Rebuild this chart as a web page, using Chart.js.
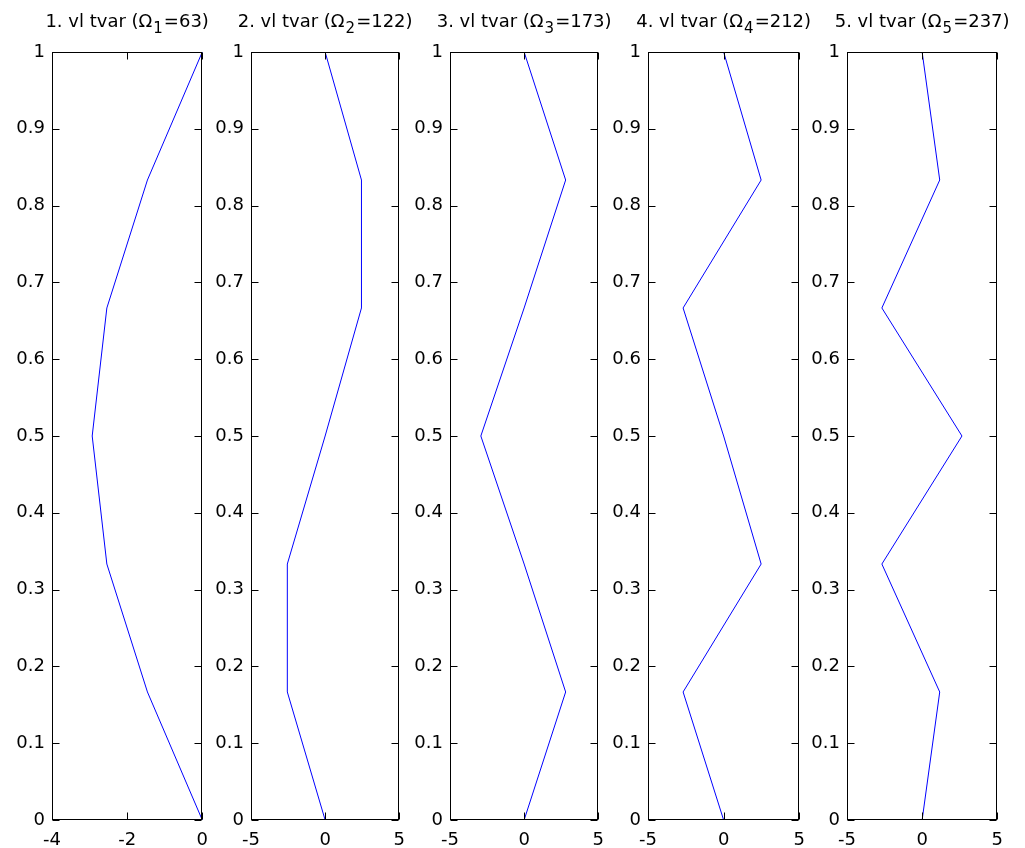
<!DOCTYPE html>
<html>
<head>
<meta charset="utf-8">
<script src="https://cdn.jsdelivr.net/npm/chart.js@4.4.0/dist/chart.umd.min.js"></script>
<style>
  html, body { margin: 0; padding: 0; background: #fff; }
  #wrap { position: relative; width: 1025px; height: 848px; overflow: hidden; }
  .panel { position: absolute; top: 0; }
</style>
</head>
<body>
<div id="wrap"></div>
<script>
// ===== DATA =====
const heights = [0, 0.1667, 0.3333, 0.5, 0.6667, 0.8333, 1];
const mode1 = [0, -1.46, -2.54, -2.93, -2.54, -1.46, 0];
const mode2 = [0, -2.55, -2.55, 0, 2.45, 2.45, 0];
const mode3 = [0, 2.8, 0, -2.92, 0, 2.8, 0];
const mode4 = [0, -2.68, 2.48, 0, -2.68, 2.48, 0];
const mode5 = [0, 1.17, -2.68, 2.65, -2.68, 1.17, 0];
const omegas = [63, 122, 173, 212, 237];
const xMins = [-4, -5, -5, -5, -5];
const xMaxs = [0, 5, 5, 5, 5];
const xSteps = [2, 5, 5, 5, 5];
const yTicksMin = 0, yTicksMax = 1, yTickStep = 0.1;

const modes = [mode1, mode2, mode3, mode4, mode5];

// ===== LAYOUT =====
const plotLeft = [52, 251, 450, 648, 847];
const plotWidth = [151, 149, 149, 152, 151];
const PLOT_TOP = 52, CANVAS_H = 848, X_AXIS_H = 28, Y_AXIS_W = 50, RIGHT_PAD = 15;
const FONT = '"DejaVu Sans", "Liberation Sans", Arial, sans-serif';
const FS = 18;
const TICK = 7;

// box, inward ticks on all four sides, and the title with subscript
const matlabAxes = {
  id: 'matlabAxes',
  afterDraw(chart, args, opts) {
    const ctx = chart.ctx;
    const a = chart.chartArea;
    const xs = chart.scales.x, ys = chart.scales.y;
    ctx.save();
    ctx.strokeStyle = '#000';
    ctx.lineWidth = 1;
    const L = Math.round(a.left) + 0.5, R = Math.round(a.right) - 0.5;
    const T = Math.round(a.top) + 0.5, B = Math.round(a.bottom) - 0.5;
    ctx.strokeRect(L, T, R - L, B - T);
    ctx.beginPath();
    ys.ticks.forEach(t => {
      const py = Math.round(ys.getPixelForValue(t.value)) + 0.5;
      ctx.moveTo(L, py); ctx.lineTo(L + TICK, py);
      ctx.moveTo(R, py); ctx.lineTo(R - TICK, py);
    });
    xs.ticks.forEach(t => {
      const px = Math.round(xs.getPixelForValue(t.value)) + 0.5;
      ctx.moveTo(px, B); ctx.lineTo(px, B - TICK);
      ctx.moveTo(px, T); ctx.lineTo(px, T + TICK);
    });
    ctx.stroke();

    // title: "n. vl tvar (Ω_n=..)"
    const main1 = opts.index + '. vl tvar (\u03A9';
    const sub = String(opts.index);
    const main2 = '=' + opts.omega + ')';
    ctx.fillStyle = '#000';
    ctx.textBaseline = 'alphabetic';
    ctx.textAlign = 'left';
    ctx.font = FS + 'px ' + FONT;
    const w1 = ctx.measureText(main1).width;
    const w3 = ctx.measureText(main2).width;
    ctx.font = '15px ' + FONT;
    const w2 = ctx.measureText(sub).width;
    const total = w1 + w2 + w3 + 2;
    let x = (a.left + a.right) / 2 - total / 2;
    ctx.font = FS + 'px ' + FONT;
    ctx.fillText(main1, x, 27);
    x += w1 + 1;
    ctx.font = '15px ' + FONT;
    ctx.fillText(sub, x, 33);
    x += w2 + 1;
    ctx.font = FS + 'px ' + FONT;
    ctx.fillText(main2, x, 27);
    ctx.restore();
  }
};

function fmt(v) {
  return String(Number(v.toFixed(2)));
}

function makePanel(i) {
  const wrap = document.getElementById('wrap');
  const div = document.createElement('div');
  div.className = 'panel';
  const cw = Y_AXIS_W + plotWidth[i] + RIGHT_PAD;
  div.style.left = (plotLeft[i] - Y_AXIS_W) + 'px';
  div.style.width = cw + 'px';
  div.style.height = CANVAS_H + 'px';
  const canvas = document.createElement('canvas');
  canvas.width = cw;
  canvas.height = CANVAS_H;
  canvas.style.width = cw + 'px';
  canvas.style.height = CANVAS_H + 'px';
  div.appendChild(canvas);
  wrap.appendChild(div);

  const pts = heights.map((h, k) => ({ x: modes[i][k], y: h }));

  new Chart(canvas, {
    type: 'scatter',
    data: {
      datasets: [{
        data: pts,
        showLine: true,
        borderColor: '#0000ff',
        backgroundColor: '#0000ff',
        borderWidth: 1,
        pointRadius: 0,
        tension: 0,
        clip: 2
      }]
    },
    options: {
      responsive: false,
      animation: false,
      devicePixelRatio: 1,
      layout: { padding: { left: 0, right: RIGHT_PAD, top: PLOT_TOP, bottom: 0 } },
      plugins: {
        legend: { display: false },
        tooltip: { enabled: false },
        title: { display: false },
        matlabAxes: { index: i + 1, omega: omegas[i] }
      },
      scales: {
        x: {
          type: 'linear',
          min: xMins[i],
          max: xMaxs[i],
          grid: { display: false, drawTicks: false },
          border: { display: false },
          ticks: {
            stepSize: xSteps[i],
            padding: 10,
            color: '#000',
            font: { family: FONT, size: FS },
            maxRotation: 0,
            autoSkip: false,
            callback: v => fmt(v)
          },
          afterFit: s => { s.height = X_AXIS_H; }
        },
        y: {
          type: 'linear',
          min: yTicksMin,
          max: yTicksMax,
          grid: { display: false, drawTicks: false },
          border: { display: false },
          ticks: {
            stepSize: yTickStep,
            padding: 7,
            color: '#000',
            font: { family: FONT, size: FS },
            autoSkip: false,
            callback: v => fmt(v)
          },
          afterFit: s => { s.width = Y_AXIS_W; }
        }
      }
    },
    plugins: [matlabAxes]
  });
}

for (let i = 0; i < 5; i++) makePanel(i);
</script>
</body>
</html>
